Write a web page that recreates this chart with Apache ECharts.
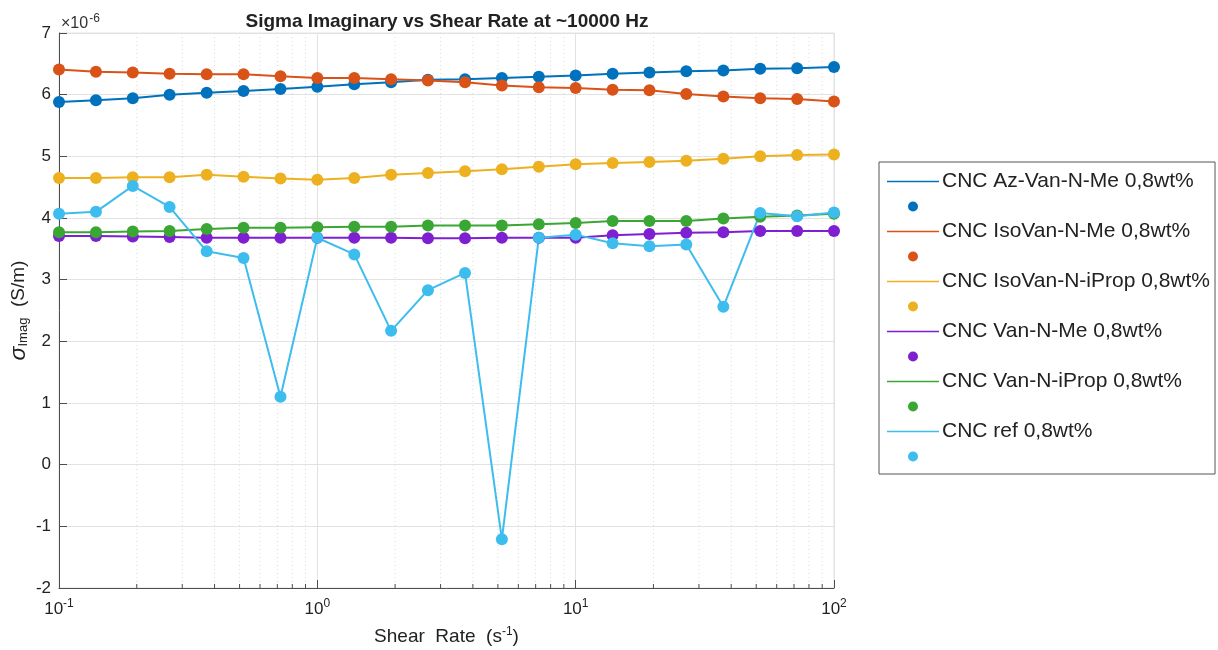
<!DOCTYPE html>
<html>
<head>
<meta charset="utf-8">
<script src="https://cdn.jsdelivr.net/npm/echarts@6/dist/echarts.min.js"></script>
<style>
html,body{margin:0;padding:0;background:#fff;}
#chart{width:1218px;height:650px;}
</style>
</head>
<body>
<div id="chart"></div>
<script>
// Shear rate (s^-1)
const shearRate = [0.1, 0.139, 0.193, 0.268, 0.373, 0.518, 0.72, 1.0, 1.39, 1.93, 2.68, 3.73, 5.18, 7.2, 10, 13.9, 19.3, 26.8, 37.3, 51.8, 72.0, 100];
// sigma imag values in units of 1e-6 S/m
const azVanNMe     = [5.88, 5.91, 5.94, 6.00, 6.03, 6.06, 6.09, 6.13, 6.17, 6.20, 6.24, 6.25, 6.27, 6.29, 6.31, 6.34, 6.36, 6.38, 6.39, 6.42, 6.43, 6.45];
const isoVanNMe    = [6.41, 6.37, 6.36, 6.34, 6.33, 6.33, 6.30, 6.27, 6.27, 6.25, 6.23, 6.20, 6.15, 6.12, 6.11, 6.08, 6.07, 6.01, 5.97, 5.94, 5.93, 5.89];
const isoVanNiProp = [4.65, 4.65, 4.66, 4.66, 4.70, 4.67, 4.64, 4.62, 4.65, 4.70, 4.73, 4.76, 4.79, 4.83, 4.87, 4.89, 4.91, 4.93, 4.96, 5.00, 5.02, 5.03];
const vanNMe       = [3.71, 3.71, 3.70, 3.69, 3.68, 3.68, 3.68, 3.68, 3.68, 3.68, 3.67, 3.67, 3.68, 3.68, 3.68, 3.72, 3.74, 3.76, 3.77, 3.79, 3.79, 3.79];
const vanNiProp    = [3.77, 3.77, 3.78, 3.79, 3.82, 3.84, 3.84, 3.85, 3.86, 3.86, 3.88, 3.88, 3.88, 3.90, 3.92, 3.95, 3.95, 3.95, 3.99, 4.02, 4.04, 4.07];
const cncRef       = [4.07, 4.10, 4.52, 4.18, 3.46, 3.35, 1.10, 3.68, 3.41, 2.17, 2.83, 3.11, -1.21, 3.68, 3.73, 3.59, 3.54, 3.57, 2.56, 4.08, 4.03, 4.09];

const seriesNames = ['CNC Az-Van-N-Me 0,8wt%', 'CNC IsoVan-N-Me 0,8wt%', 'CNC IsoVan-N-iProp 0,8wt%', 'CNC Van-N-Me 0,8wt%', 'CNC Van-N-iProp 0,8wt%', 'CNC ref 0,8wt%'];
const seriesValues = [azVanNMe, isoVanNMe, isoVanNiProp, vanNMe, vanNiProp, cncRef];
const colors = ['#0072BD', '#D95319', '#EDB120', '#7E1FD2', '#3AA634', '#3DBDEE'];

const yTicks = [-2, -1, 0, 1, 2, 3, 4, 5, 6, 7];
const xMinorTicks = [0.2, 0.3, 0.4, 0.5, 0.6, 0.7, 0.8, 0.9, 2, 3, 4, 5, 6, 7, 8, 9, 20, 30, 40, 50, 60, 70, 80, 90];

const FONT = "Helvetica, 'Liberation Sans', Arial, sans-serif";
const AXIS_COLOR = '#4d4d4d';

const series = [];
const legendData = [];

// minor grid lines + minor ticks
series.push({
  type: 'custom',
  name: 'minor',
  silent: true,
  z: 1,
  clip: false,
  data: xMinorTicks.map(v => [v, yTicks[0]]),
  renderItem: function (params, api) {
    const x = api.value(0);
    const bot = api.coord([x, yTicks[0]]);
    const top = api.coord([x, yTicks[yTicks.length - 1]]);
    return {
      type: 'group',
      children: [
        { type: 'line', shape: { x1: bot[0], y1: top[1], x2: bot[0], y2: bot[1] },
          style: { stroke: '#dadada', lineWidth: 1, lineDash: [1, 3] } },
        { type: 'line', shape: { x1: bot[0], y1: bot[1], x2: bot[0], y2: bot[1] - 4 },
          style: { stroke: AXIS_COLOR, lineWidth: 1 } }
      ]
    };
  }
});

seriesNames.forEach((name, i) => {
  const pts = shearRate.map((x, k) => [x, seriesValues[i][k]]);
  series.push({
    type: 'line',
    name: name,
    data: pts,
    showSymbol: false,
    symbol: 'none',
    lineStyle: { color: colors[i], width: 2 },
    itemStyle: { color: colors[i] },
    z: 3,
    silent: true
  });
  series.push({
    type: 'scatter',
    name: '_dot' + i,
    data: pts,
    symbol: 'circle',
    symbolSize: 12,
    itemStyle: { color: colors[i], opacity: 1 },
    z: 3,
    silent: true
  });
  legendData.push({ name: name, icon: 'path://M0,0 L52,0 L52,1.6 L0,1.6 Z' });
  legendData.push({ name: '_dot' + i, icon: 'circle' });
});

const chart = echarts.init(document.getElementById('chart'), null, { renderer: 'canvas' });
chart.setOption({
  animation: false,
  backgroundColor: '#fff',
  textStyle: { fontFamily: FONT },
  title: [
    { text: 'Sigma Imaginary vs Shear Rate at ~10000 Hz', left: 442, top: 7, textAlign: 'center',
      textStyle: { fontSize: 19, fontWeight: 'bold', color: '#222', fontFamily: FONT } },
    { text: '×10{sup|-6}', left: 56, top: 8,
      textStyle: { fontSize: 16, fontWeight: 'normal', color: '#333', fontFamily: FONT,
        rich: { sup: { fontSize: 12, verticalAlign: 'top', padding: [0, 0, 10, 1], color: '#333', fontFamily: FONT } } } }
  ],
  grid: { left: 59, right: 384, top: 33, bottom: 62, containLabel: false, outerBoundsMode: 'none',
    show: true, borderColor: '#e2e2e2', borderWidth: 1, backgroundColor: 'transparent' },
  legend: {
    orient: 'vertical',
    left: 879,
    top: 162,
    padding: [9, 5, 7, 8],
    backgroundColor: '#fff',
    borderColor: '#555',
    borderWidth: 1,
    borderRadius: 0,
    itemWidth: 52,
    itemHeight: 10,
    itemGap: 4,
    selectedMode: false,
    data: legendData,
    formatter: function (name) { return name.indexOf('_dot') === 0 ? ' ' : name; },
    textStyle: { fontSize: 21, color: '#222', fontFamily: FONT, padding: [0, 0, 0, -2] }
  },
  xAxis: {
    type: 'log',
    logBase: 10,
    min: 0.1,
    max: 100,
    name: 'Shear  Rate  (s{sup|-1})',
    nameLocation: 'middle',
    nameGap: 38,
    nameMoveOverlap: false,
    nameTextStyle: { fontSize: 19, color: '#222', fontFamily: FONT,
      rich: { sup: { fontSize: 12, verticalAlign: 'top', padding: [0, 0, 10, 0], color: '#222', fontFamily: FONT } } },
    axisLine: { show: true, onZero: false, lineStyle: { color: AXIS_COLOR, width: 1 } },
    axisTick: { show: true, inside: true, length: 8, lineStyle: { color: AXIS_COLOR } },
    axisLabel: {
      fontSize: 17, color: '#222', margin: 10, fontFamily: FONT,
      formatter: function (v) { return '10{sup|' + Math.round(Math.log10(v)) + '}'; },
      rich: { sup: { fontSize: 12, verticalAlign: 'top', padding: [0, 0, 10, 0], color: '#222', fontFamily: FONT } }
    },
    splitLine: { show: true, lineStyle: { color: '#e2e2e2', width: 1 } },
    minorTick: { show: false },
    minorSplitLine: { show: false }
  },
  yAxis: {
    type: 'value',
    min: yTicks[0],
    max: yTicks[yTicks.length - 1],
    interval: 1,
    name: '{s|σ}{sub|Imag}  (S/m)',
    nameLocation: 'middle',
    nameGap: 29,
    nameMoveOverlap: false,
    nameTextStyle: { fontSize: 19, color: '#222', fontFamily: FONT,
      rich: {
        s: { fontSize: 23, fontStyle: 'italic', color: '#222', fontFamily: FONT },
        sub: { fontSize: 13, verticalAlign: 'bottom', color: '#222', fontFamily: FONT, padding: [9, 0, 0, 0] }
      } },
    axisLine: { show: true, onZero: false, lineStyle: { color: AXIS_COLOR, width: 1 } },
    axisTick: { show: true, inside: true, length: 8, lineStyle: { color: AXIS_COLOR } },
    axisLabel: { fontSize: 17, color: '#222', margin: 8, fontFamily: FONT },
    splitLine: { show: true, lineStyle: { color: '#e2e2e2', width: 1 } }
  },
  series: series
});
</script>
</body>
</html>
